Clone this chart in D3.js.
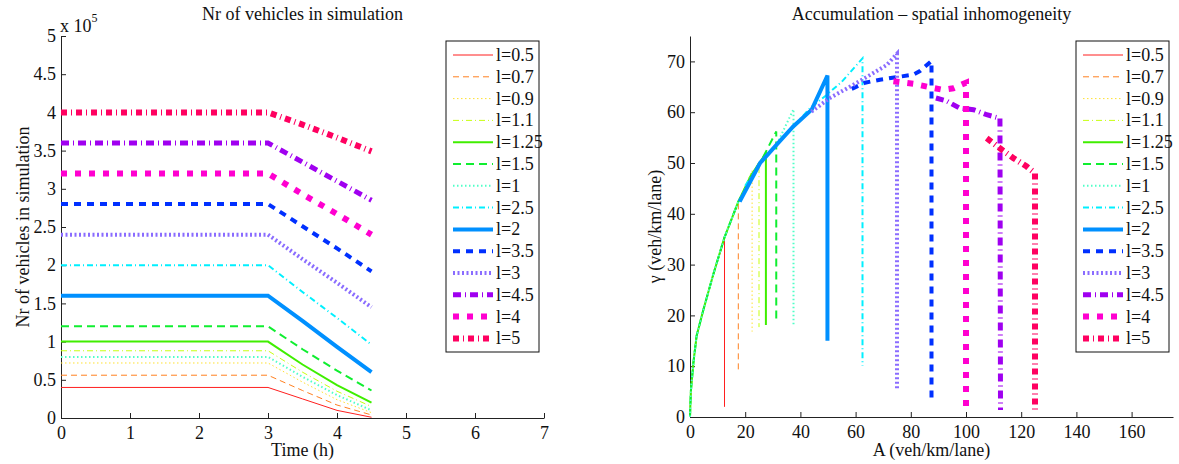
<!DOCTYPE html>
<html>
<head>
<meta charset="utf-8">
<script src="https://cdn.jsdelivr.net/npm/d3@7"></script>
<style>
  body { margin: 0; background: #fff; }
</style>
</head>
<body>
<script>
const serif = '"Liberation Serif", "Times New Roman", "DejaVu Serif", serif';

// series labels + styles (same order in both panels)
const labels = ['l=0.5', 'l=0.7', 'l=0.9', 'l=1.1', 'l=1.25', 'l=1.5', 'l=1', 'l=2.5', 'l=2', 'l=3.5', 'l=3', 'l=4.5', 'l=4', 'l=5'];
const colors = ['#ff1f1f', '#ff8020', '#ffe030', '#c8ff10', '#40ee00', '#10ee30', '#50ffc8', '#00f0ff', '#0090ff', '#0030ff', '#8a6cff', '#a000f0', '#ff00d0', '#ff0060'];
const widths = [1, 1, 1, 1, 2, 2, 2, 2, 4, 4, 4, 5, 6, 6];
const dashes = [null, '6,4', '1.5,2.5', '6,3,1,3', null, '8,5', '1.5,2.5', '6,3,1,3', null, '7,6', '2,2.5', '8,4,1,4', '6,8', '6,4,1,4'];

// left panel: time (h) vs nr of vehicles (x 10^5)
const timeH = [0, 3, 3.5, 4, 4.5];
const vehicles = [
  [0.4, 0.4, 0.25, 0.1, 0.01],
  [0.56, 0.56, 0.36, 0.17, 0.04],
  [0.72, 0.72, 0.47, 0.24, 0.07],
  [0.88, 0.88, 0.6, 0.35, 0.15],
  [1.0, 1.0, 0.7, 0.43, 0.2],
  [1.2, 1.2, 0.9, 0.62, 0.36],
  [0.8, 0.8, 0.54, 0.3, 0.1],
  [2.0, 2.0, 1.65, 1.31, 0.96],
  [1.6, 1.6, 1.27, 0.93, 0.6],
  [2.8, 2.8, 2.51, 2.22, 1.92],
  [2.4, 2.4, 2.08, 1.77, 1.45],
  [3.6, 3.6, 3.35, 3.1, 2.85],
  [3.2, 3.2, 2.93, 2.67, 2.4],
  [4.0, 4.0, 3.84, 3.67, 3.49]
];

// right panel: accumulation A vs gamma, last point = bottom of the vertical drop
const accA = [
  [0, 0.3, 1.2, 2.4, 4.8, 8.4, 12.5, 12.5],
  [0, 0.3, 1.2, 2.4, 4.8, 8.4, 12.4, 17.5, 17.5],
  [0, 0.3, 1.2, 2.4, 4.8, 8.4, 12.4, 17.5, 22.5, 22.5],
  [0, 0.3, 1.2, 2.4, 4.8, 8.4, 12.4, 17.5, 25, 25],
  [0, 0.3, 1.2, 2.4, 4.8, 8.4, 12.4, 17.5, 22, 27.5, 27.5],
  [0, 0.3, 1.2, 2.4, 4.8, 8.4, 12.4, 17.5, 25.4, 31.25, 31.25],
  [0, 0.3, 1.2, 2.4, 4.8, 8.4, 12.4, 17.5, 25.4, 31.4, 37.5, 37.5],
  [20, 25.4, 31.4, 37.4, 43.5, 49.5, 55, 62.5, 62.5],
  [18, 25.4, 31.4, 37.4, 44.1, 49.8, 49.8],
  [58.6, 63.4, 68.8, 74.9, 80.9, 83.3, 87.5, 87.5],
  [44, 50.7, 59.2, 66.4, 71.3, 75, 75],
  [89.1, 93, 97.7, 102.7, 107.5, 112.3, 112.5],
  [73.7, 80.9, 86.9, 91.8, 95.4, 100, 100],
  [107.5, 112.3, 117.1, 122, 125, 125]
];
const accGamma = [
  [0, 5, 10.5, 16, 21, 28, 35, 2],
  [0, 5, 10.5, 16, 21, 28, 35.2, 42, 8.7],
  [0, 5, 10.5, 16, 21, 28, 35.2, 42.4, 48.5, 16.8],
  [0, 5, 10.5, 16, 21, 28, 35.2, 42.4, 50.3, 17.7],
  [0, 5, 10.5, 16, 21, 28, 35.2, 42.4, 47.5, 51.9, 18.1],
  [0, 5, 10.5, 16, 21, 28, 35.2, 42.4, 50, 56.2, 18.5],
  [0, 5, 10.5, 16, 21, 28, 35.2, 42.4, 50, 53.6, 60.6, 17.8],
  [45.5, 50, 53.6, 57.2, 60.8, 63.4, 66, 70.6, 10.1],
  [42.4, 50, 53.6, 57.2, 60.5, 67.2, 15],
  [64.6, 65.8, 66.4, 66.9, 67.4, 68.1, 70.1, 3],
  [60.1, 62.8, 65.4, 67.7, 69.3, 71.5, 5.6],
  [62.8, 62.2, 60.8, 60.5, 59.5, 58.8, 1.4],
  [66.1, 65.6, 64.9, 64.4, 64.7, 65.8, 0.7],
  [54.9, 52.9, 51, 49.3, 48, 1.4]
];

const leftYTicks = [0, 0.5, 1, 1.5, 2, 2.5, 3, 3.5, 4, 4.5, 5];
const leftXTicks = [0, 1, 2, 3, 4, 5, 6, 7];
const rightXTicks = [0, 20, 40, 60, 80, 100, 120, 140, 160];
const rightYTicks = [0, 10, 20, 30, 40, 50, 60, 70];

const svg = d3.select('body').append('svg')
  .attr('width', 1179)
  .attr('height', 464)
  .style('font-family', serif);

function styleAxis(g) {
  g.attr('font-family', serif).attr('font-size', 18);
  g.selectAll('path, line').attr('stroke', '#222');
  g.selectAll('text').attr('fill', '#111');
}

function drawPanel(p) {
  const x = d3.scaleLinear().domain(p.xDom).range([p.left, p.right]);
  const y = d3.scaleLinear().domain(p.yDom).range([p.bottom, p.top]);

  svg.append('g')
     .attr('transform', `translate(0,${p.bottom})`)
     .call(d3.axisBottom(x).tickValues(p.xTicks).tickFormat(d3.format('')).tickSize(-5).tickSizeOuter(0).tickPadding(8))
     .call(styleAxis);
  svg.append('g')
     .attr('transform', `translate(${p.left},0)`)
     .call(d3.axisLeft(y).tickValues(p.yTicks).tickFormat(d3.format('')).tickSize(-5).tickSizeOuter(0).tickPadding(5))
     .call(styleAxis);

  const line = d3.line()
                 .x(d => x(d[0]))
                 .y(d => y(d[1]));

  p.xs.forEach((xv, i) => {
    const pts = xv.map((v, j) => [v, p.ys[i][j]]);
    svg.append('path')
       .attr('d', line(pts))
       .attr('fill', 'none')
       .attr('stroke', colors[i])
       .attr('stroke-width', widths[i])
       .attr('stroke-dasharray', dashes[i]);
  });

  const mid = (p.left + p.right) / 2;
  svg.append('text')
     .attr('x', mid).attr('y', 20)
     .attr('text-anchor', 'middle')
     .attr('font-size', 18)
     .attr('fill', '#111')
     .text(p.title);
  svg.append('text')
     .attr('x', mid).attr('y', 456)
     .attr('text-anchor', 'middle')
     .attr('font-size', 18)
     .attr('fill', '#111')
     .text(p.xLabel);
  svg.append('text')
     .attr('transform', `translate(${p.yLabelX},${(p.top + p.bottom) / 2}) rotate(-90)`)
     .attr('text-anchor', 'middle')
     .attr('font-size', 18)
     .attr('fill', '#111')
     .text(p.yLabel);

  // legend
  const lg = svg.append('g').attr('transform', `translate(${p.legendX},41)`);
  lg.append('rect')
    .attr('width', 93).attr('height', 311)
    .attr('fill', '#fff').attr('stroke', '#111').attr('stroke-width', 1);
  labels.forEach((lab, i) => {
    const yy = 14 + i * 21.8;
    lg.append('line')
      .attr('x1', 7).attr('x2', 47)
      .attr('y1', yy).attr('y2', yy)
      .attr('stroke', colors[i])
      .attr('stroke-width', widths[i])
      .attr('stroke-dasharray', dashes[i]);
    lg.append('text')
      .attr('x', 50).attr('y', yy + 6)
      .attr('font-size', 18)
      .attr('fill', '#111')
      .text(lab);
  });
}

drawPanel({
  xDom: [0, 7], yDom: [0, 5],
  left: 61, right: 544, top: 36, bottom: 418,
  xTicks: leftXTicks, yTicks: leftYTicks,
  xs: vehicles.map(() => timeH), ys: vehicles,
  title: 'Nr of vehicles in simulation',
  xLabel: 'Time (h)',
  yLabel: 'Nr of vehicles in simulation',
  yLabelX: 29,
  legendX: 446
});

drawPanel({
  xDom: [0, 175], yDom: [0, 75],
  left: 690, right: 1173, top: 36, bottom: 417,
  xTicks: rightXTicks, yTicks: rightYTicks,
  xs: accA, ys: accGamma,
  title: 'Accumulation – spatial inhomogeneity',
  xLabel: 'A (veh/km/lane)',
  yLabel: 'γ (veh/km/lane)',
  yLabelX: 661,
  legendX: 1076
});

// exponent marker on the left y axis
const expo = svg.append('text').attr('x', 60).attr('y', 32).attr('font-size', 18).attr('fill', '#111');
expo.append('tspan').text('x 10');
expo.append('tspan').attr('dy', -10).attr('font-size', 12).text('5');
</script>
</body>
</html>
